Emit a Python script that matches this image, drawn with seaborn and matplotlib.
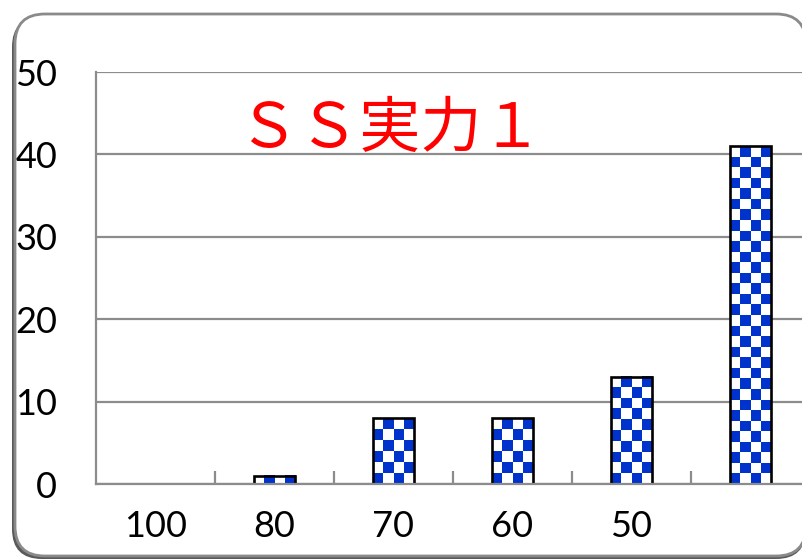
import numpy as np
import pandas as pd
import matplotlib
matplotlib.use('Agg')
import matplotlib.pyplot as plt
import seaborn as sns
from matplotlib.patches import FancyBboxPatch
from matplotlib.transforms import IdentityTransform

categories = ['100', '80', '70', '60', '50', '']
counts = [0, 1, 8, 8, 13, 41]
title = 'ＳＳ実力１'

df = pd.DataFrame({'cat': categories, 'count': counts})

sns.set_style('white')
plt.rcParams['font.family'] = ['Lato', 'DejaVu Sans']

fig = plt.figure(figsize=(8.03, 5.6), dpi=100)
W, H = 803, 560

# rounded frame with a little shadow
shadow = FancyBboxPatch((12, 1), 794, 542, boxstyle='round,pad=0,rounding_size=30',
                        transform=IdentityTransform(), facecolor='#222222',
                        edgecolor='none', alpha=0.75, zorder=-2)
frame = FancyBboxPatch((15, 4), 791, 542, boxstyle='round,pad=0,rounding_size=30',
                       transform=IdentityTransform(), facecolor='white',
                       edgecolor='#8a8a8a', linewidth=2, zorder=-1)
fig.patches.extend([shadow, frame])

ax = fig.add_axes([96 / W, (H - 484) / H, 714 / W, 412 / H])
ax.patch.set_alpha(0)

sns.barplot(data=df, x='cat', y='count', order=categories, width=0.35,
            facecolor='none', edgecolor='black', linewidth=1.9, ax=ax, zorder=3)

ax.set_xlim(-0.5, 5.5)
ax.set_ylim(0, 50)

# checkerboard fill inside each bar
cell = 10.5
px_x = 714 / 6.0
px_y = 412 / 50.0
cmap = matplotlib.colors.ListedColormap(['white', '#0033cc'])
for bar in list(ax.patches):
    h = bar.get_height()
    if h <= 0:
        bar.set_visible(False)
        continue
    x0 = bar.get_x()
    w = bar.get_width()
    nc = max(1, int(round(w * px_x / cell)))
    nr = max(1, int(round(h * px_y / cell)))
    ii, jj = np.indices((nr, nc))
    board = ((ii + jj) % 2)[::-1]
    ax.imshow(board, cmap=cmap, extent=(x0, x0 + w, 0, h), aspect='auto',
              interpolation='nearest', origin='lower', zorder=2)

ax.set_xlim(-0.5, 5.5)
ax.set_ylim(0, 50)
ax.set_yticks(range(0, 51, 10))
ax.yaxis.grid(True, color='#8c8c8c', linewidth=1.6, zorder=1)
ax.set_axisbelow(True)
ax.set_xlabel('')
ax.set_ylabel('')
for s in ['top', 'right']:
    ax.spines[s].set_visible(False)
for s in ['left', 'bottom']:
    ax.spines[s].set_color('#8c8c8c')
    ax.spines[s].set_linewidth(1.6)
    ax.spines[s].set_zorder(4)

ax.tick_params(axis='y', length=0, pad=28, labelsize=26, labelcolor='black')
ax.tick_params(axis='x', which='major', length=0, pad=19, labelsize=26,
               labelcolor='black')
ax.set_xticks(np.arange(0.5, 5.5, 1.0), minor=True)
ax.tick_params(axis='x', which='minor', bottom=True, direction='in', length=9.5,
               width=1.6, color='#8c8c8c')

fig.text(390 / W, 1 - 130 / H, title, ha='center', va='center', color='red',
         fontsize=44, family=['Noto Sans CJK JP', 'DejaVu Sans'])

fig.savefig('out.png', dpi=100)
